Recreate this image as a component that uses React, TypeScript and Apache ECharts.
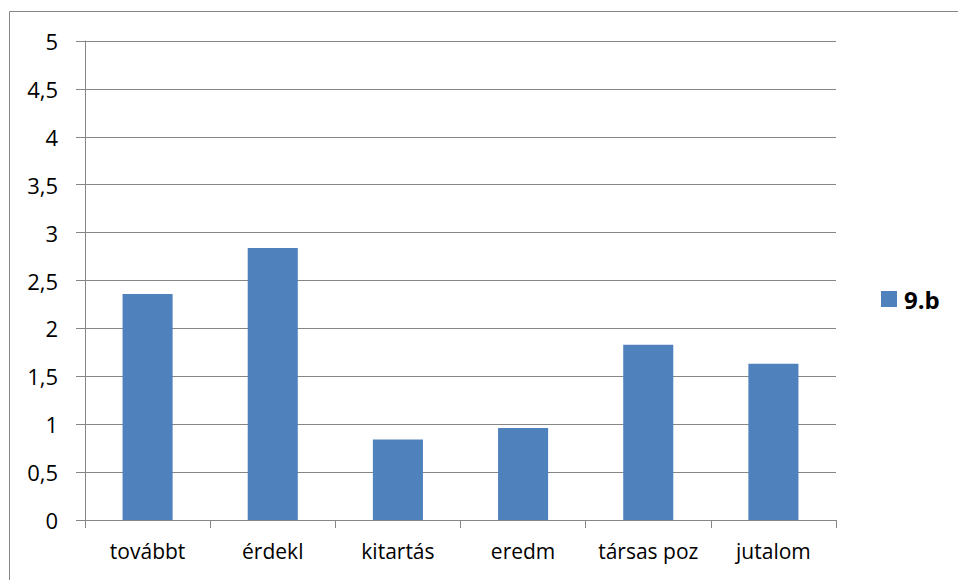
import React, { useEffect, useRef } from "react";
import * as echarts from "echarts";

const categories = ["továbbt", "érdekl", "kitartás", "eredm", "társas poz", "jutalom"];
const seriesName = "9.b";
const values = [2.36, 2.84, 0.84, 0.96, 1.83, 1.63];

export default function App() {
  const ref = useRef<HTMLDivElement>(null);
  useEffect(() => {
    if (!ref.current) return;
    const chart = echarts.init(ref.current, null, { renderer: "svg" });
    const font = "Open Sans";
    chart.setOption({
      animation: false,
      backgroundColor: "#ffffff",
      graphic: [
        {
          type: "rect",
          shape: { x: 9.5, y: 11.5, width: 1000, height: 1000 },
          style: { fill: "none", stroke: "#868686", lineWidth: 1 },
          silent: true,
        },
      ],
      grid: { left: 85, right: 122, top: 41, bottom: 60, containLabel: false },
      legend: {
        left: 881,
        top: 287,
        padding: 0,
        orient: "vertical",
        itemWidth: 16,
        itemHeight: 16,
        itemGap: 6,
        icon: "rect",
        textStyle: { fontFamily: font, fontSize: 24, fontWeight: "bold", color: "#000", padding: [0, 0, 0, 2] },
        data: [seriesName],
      },
      xAxis: {
        type: "category",
        data: categories,
        axisLine: { lineStyle: { color: "#868686", width: 1 } },
        axisTick: { show: true, length: 8, lineStyle: { color: "#868686" } },
        axisLabel: { fontFamily: font, fontSize: 21, color: "#000", margin: 20, interval: 0, hideOverlap: false },
      },
      yAxis: {
        type: "value",
        min: 0,
        max: 5,
        interval: 0.5,
        axisLine: { show: true, lineStyle: { color: "#868686", width: 1 } },
        axisTick: { show: true, length: 9, lineStyle: { color: "#868686" } },
        splitLine: { show: true, lineStyle: { color: "#868686", width: 1 } },
        axisLabel: {
          fontFamily: font,
          fontSize: 22,
          color: "#000",
          margin: 27,
          formatter: (v: number) => String(v).replace(".", ","),
        },
      },
      series: [
        {
          name: seriesName,
          type: "bar",
          data: values,
          barWidth: "40%",
          itemStyle: { color: "#4f81bd" },
        },
      ],
    });
    return () => chart.dispose();
  }, []);
  return (
    <div
      ref={ref}
      style={{ position: "absolute", left: 0, top: 0, width: 958, height: 580 }}
    />
  );
}
